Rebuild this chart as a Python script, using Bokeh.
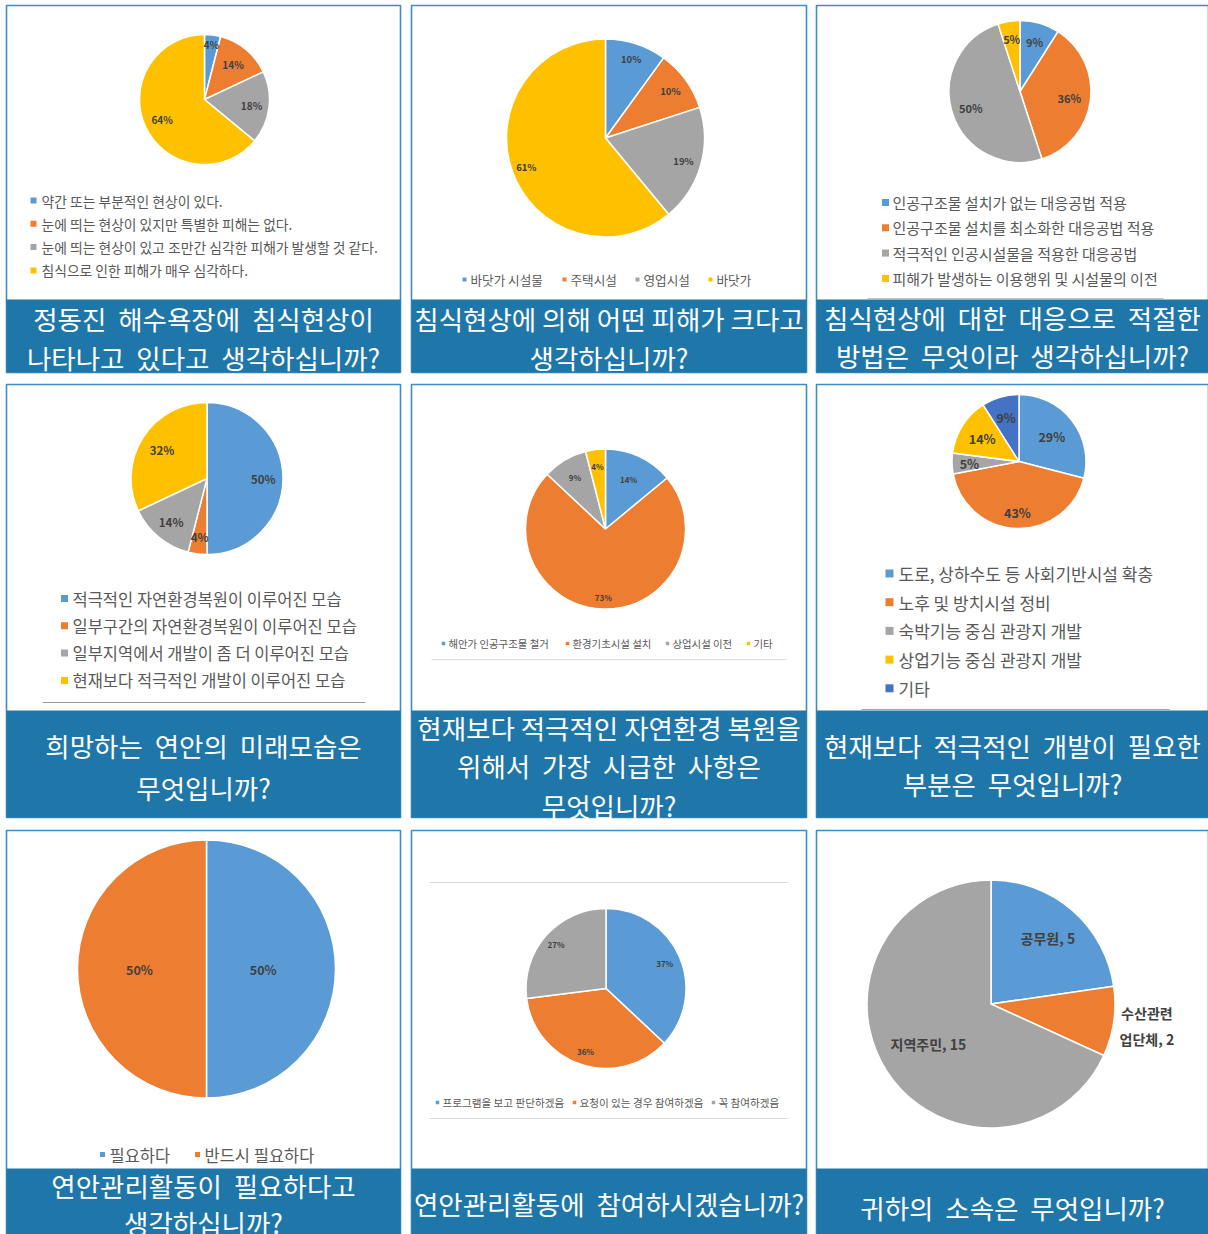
import numpy as np
from bokeh.plotting import figure
from bokeh.models import Range1d, ColumnDataSource
from bokeh.core.properties import value
from bokeh.embed import file_html
from bokeh.resources import INLINE

# ---------------- data ----------------
c1_labels = ["약간 또는 부분적인 현상이 있다.", "눈에 띄는 현상이 있지만 특별한 피해는 없다.",
             "눈에 띄는 현상이 있고 조만간 심각한 피해가 발생할 것 같다.", "침식으로 인한 피해가 매우 심각하다."]
c1_values = [4, 14, 18, 64]
c2_labels = ["바닷가 시설물", "주택시설", "영업시설", "바닷가"]
c2_values = [10, 10, 19, 61]
c3_labels = ["인공구조물 설치가 없는 대응공법 적용", "인공구조물 설치를 최소화한 대응공법 적용",
             "적극적인 인공시설물을 적용한 대응공법", "피해가 발생하는 이용행위 및 시설물의 이전"]
c3_values = [9, 36, 50, 5]
c4_labels = ["적극적인 자연환경복원이 이루어진 모습", "일부구간의 자연환경복원이 이루어진 모습",
             "일부지역에서 개발이 좀 더 이루어진 모습", "현재보다 적극적인 개발이 이루어진 모습"]
c4_values = [50, 4, 14, 32]
c5_labels = ["해안가 인공구조물 철거", "환경기초시설 설치", "상업시설 이전", "기타"]
c5_values = [14, 73, 9, 4]
c6_labels = ["도로, 상하수도 등 사회기반시설 확충", "노후 및 방치시설 정비", "숙박기능 중심 관광지 개발",
             "상업기능 중심 관광지 개발", "기타"]
c6_values = [29, 43, 5, 14, 9]
c7_labels = ["필요하다", "반드시 필요하다"]
c7_values = [50, 50]
c8_labels = ["프로그램을 보고 판단하겠음", "요청이 있는 경우 참여하겠음", "꼭 참여하겠음"]
c8_values = [37, 36, 27]
c9_labels = ["공무원", "수산관련\n업단체", "지역주민"]
c9_values = [5, 2, 15]

titles = [
    ["정동진  해수욕장에  침식현상이", "나타나고  있다고  생각하십니까?"],
    ["침식현상에 의해 어떤 피해가 크다고", "생각하십니까?"],
    ["침식현상에  대한  대응으로  적절한", "방법은  무엇이라  생각하십니까?"],
    ["희망하는  연안의  미래모습은", "무엇입니까?"],
    ["현재보다 적극적인 자연환경 복원을", "위해서  가장  시급한  사항은", "무엇입니까?"],
    ["현재보다  적극적인  개발이  필요한", "부분은  무엇입니까?"],
    ["연안관리활동이  필요하다고", "생각하십니까?"],
    ["연안관리활동에  참여하시겠습니까?"],
    ["귀하의  소속은  무엇입니까?"],
]

# ---------------- style ----------------
W, H = 1208, 1234
PALETTE = ["#5B9BD5", "#ED7D31", "#A5A5A5", "#FFC000", "#4472C4"]
BAR = "#1F77A9"
BORDER = "#3A8EC4"
FONT = value("Noto Sans CJK KR")
LABEL_COLOR = "#404040"
LEGEND_COLOR = "#595959"


def Y(y):
    return H - y


def keep_gaps(s):
    # svg collapses runs of spaces; keep the wide word gaps with no-break spaces
    return s.replace("  ", "\u00a0\u00a0")


p = figure(width=W, height=H, x_range=Range1d(0, W), y_range=Range1d(0, H),
           x_axis_type=None, y_axis_type=None, output_backend="svg",
           toolbar_location=None, min_border=0)
p.grid.visible = False
p.outline_line_color = None
p.background_fill_color = "white"
p.border_fill_color = "white"

cols = [(6, 400), (411, 806), (816, 1208)]
rows = [(5, 372, 299), (384, 817, 710), (830, 1236, 1168)]

# panels + title bars
for ri, (top, bot, bar_top) in enumerate(rows):
    for ci, (l, r) in enumerate(cols):
        p.quad(left=l, right=r, top=Y(top), bottom=Y(bot), fill_color="white",
               line_color=BORDER, line_width=1.6)
        p.quad(left=l, right=r, top=Y(bar_top), bottom=Y(bot), fill_color=BAR,
               line_color=None)

title_y = [[318, 357], [318, 357], [317, 355],
           [745, 787], [727, 765, 805], [745, 783],
           [1185, 1222], [1203], [1207]]
for k, lines in enumerate(titles):
    l, r = cols[k % 3]
    xc = (l + r) / 2
    p.text(x=[xc] * len(lines), y=[Y(v) for v in title_y[k]],
           text=[keep_gaps(s) for s in lines],
           text_font=FONT, text_font_size="26.5px", text_color="white",
           text_align="center", text_baseline="middle")


def draw_pie(cx, cy, r, values):
    n = len(values)
    total = float(sum(values))
    fr = np.array(values) / total
    cum = np.concatenate([[0.0], np.cumsum(fr)])
    start = np.pi / 2 - 2 * np.pi * cum[:-1]
    end = np.pi / 2 - 2 * np.pi * cum[1:]
    src = ColumnDataSource(dict(x=[cx] * n, y=[Y(cy)] * n, start=start, end=end,
                                color=PALETTE[:n]))
    p.wedge(x="x", y="y", radius=r, start_angle="start", end_angle="end",
            direction="clock", fill_color="color", line_color="white",
            line_width=1.5, source=src)
    mid = (start + end) / 2
    return mid, total


def pct_labels(cx, cy, r, values, fr_list, size):
    mid, total = draw_pie(cx, cy, r, values)
    fl = np.array(fr_list)
    lx = cx + fl * r * np.cos(mid)
    ly = Y(cy) + fl * r * np.sin(mid)
    txt = [f"{round(v / total * 100)}%" for v in values]
    p.text(x=list(lx), y=list(ly), text=txt, text_font=FONT, text_font_size=size,
           text_color=LABEL_COLOR, text_align="center", text_baseline="middle",
           text_font_style="bold")


def vlegend(labels, sx, y0, step, tx, size, sq):
    n = len(labels)
    ys = [Y(y0 + i * step) for i in range(n)]
    p.rect(x=[sx] * n, y=ys, width=sq, height=sq, fill_color=PALETTE[:n], line_color=None)
    p.text(x=[tx] * n, y=ys, text=labels, text_font=FONT, text_font_size=size,
           text_color=LEGEND_COLOR, text_align="left", text_baseline="middle")


def hlegend(labels, xs, y, off, size, sq):
    n = len(labels)
    p.rect(x=xs, y=[Y(y)] * n, width=sq, height=sq, fill_color=PALETTE[:n], line_color=None)
    p.text(x=[x + off for x in xs], y=[Y(y)] * n, text=labels, text_font=FONT,
           text_font_size=size, text_color=LEGEND_COLOR, text_align="left",
           text_baseline="middle")


def sep(x0, x1, y, color):
    p.segment(x0=[x0], y0=[Y(y)], x1=[x1], y1=[Y(y)], line_color=color, line_width=1.2)


# chart 1
pct_labels(204, 99, 65, c1_values, [0.85, 0.69, 0.73, 0.72], "10px")
vlegend(c1_labels, 33, 200, 23.3, 41, "13.8px", 6)

# chart 2
pct_labels(605, 137.5, 99, c2_values, [0.84, 0.81, 0.82, 0.85], "9.5px")
hlegend(c2_labels, [464, 564, 637, 710], 279, 6, "12.6px", 4)

# chart 3
pct_labels(1019.5, 91, 71, c3_values, [0.73, 0.70, 0.73, 0.75], "11px")
vlegend(c3_labels, 885, 202, 25.3, 892, "15px", 7)
sep(867, 1163, 298, "#BFBFBF")

# chart 4
pct_labels(206.5, 478, 76, c4_values, [0.74, 0.78, 0.74, 0.70], "11.5px")
vlegend(c4_labels, 64, 598, 27.3, 72, "16.5px", 7)
sep(42, 365, 702, "#9A9A9A")

# chart 5
pct_labels(605, 528.5, 80, c5_values, [0.68, 0.86, 0.75, 0.79], "8px")
hlegend(c5_labels, [443, 567, 667, 748], 643, 5, "10.4px", 3.5)
sep(431, 786, 659, "#D9D9D9")

# chart 6
pct_labels(1018.5, 461, 67, c6_values, [0.62, 0.76, 0.74, 0.65, 0.69], "12.5px")
vlegend(c6_labels, 889, 573, 28.7, 898, "17px", 8)
sep(861, 1169, 709, "#A6A6A6")

# chart 7
pct_labels(206, 968.5, 129, c7_values, [0.44, 0.52], "12.5px")
hlegend(c7_labels, [102, 197], 1154, 7, "16.5px", 5)

# chart 8
sep(429, 787, 882, "#D9D9D9")
pct_labels(605.5, 988, 80, c8_values, [0.80, 0.83, 0.83], "8px")
hlegend(c8_labels, [437, 574, 713], 1102, 5, "10.6px", 3.5)
sep(429, 787, 1118, "#D9D9D9")

# chart 9 (counts, category labels)
cx9, cy9, r9 = 990.5, 1003.5, 124
mid9, tot9 = draw_pie(cx9, cy9, r9, c9_values)
fr9 = [0.70, 1.27, 0.60]
tx, ty, tt = [], [], []
for i, (lab, v) in enumerate(zip(c9_labels, c9_values)):
    parts = (lab + f", {v}").split("\n")
    bx = cx9 + fr9[i] * r9 * np.cos(mid9[i])
    by = Y(cy9) + fr9[i] * r9 * np.sin(mid9[i])
    nl = len(parts)
    for j, s in enumerate(parts):
        tx.append(bx)
        ty.append(by + (nl - 1) * 13 - j * 26)
        tt.append(s)
p.text(x=tx, y=ty, text=tt, text_font=FONT, text_font_size="14px",
       text_color=LABEL_COLOR, text_align="center", text_baseline="middle",
       text_font_style="bold")

open("out.html", "w").write(file_html(p, INLINE))
